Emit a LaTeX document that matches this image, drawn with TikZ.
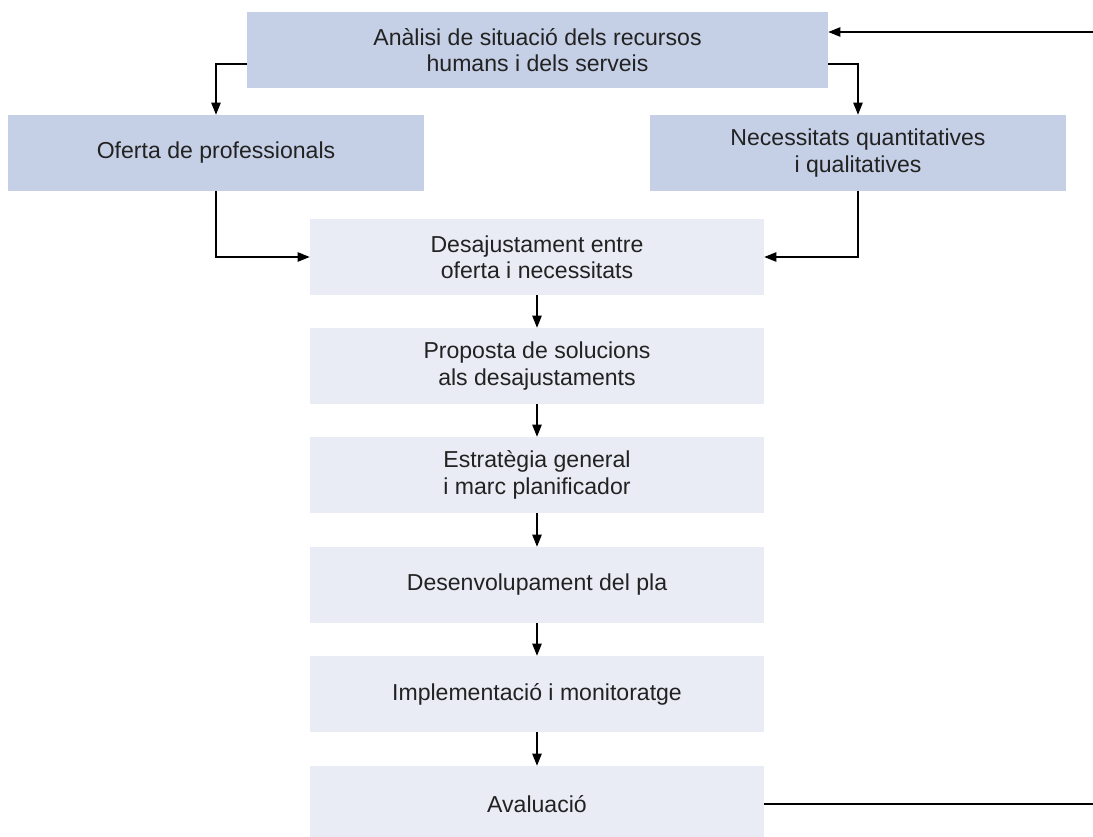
\documentclass[tikz,border=0pt]{standalone}
\usepackage{fontspec}
\setmainfont{Liberation Sans}
\usetikzlibrary{arrows.meta}
\definecolor{boxdark}{HTML}{C5CFE5}
\definecolor{boxlight}{HTML}{E9ECF4}
\definecolor{txt}{HTML}{222222}
\begin{document}
\begin{tikzpicture}[x=0.75pt,y=-0.75pt,
  box/.style={fill=#1, draw=none, inner sep=0pt, align=center, text=txt,
    font=\fontsize{17.3}{19.8}\selectfont, minimum height=57pt},
  wide/.style={minimum width=435.75pt},
  side/.style={minimum width=312pt},
  mid/.style={minimum width=340.5pt},
  conn/.style={draw=black, line width=0.9pt, -{Triangle[length=9pt,width=7pt]}},
  plain/.style={draw=black, line width=0.9pt}]
\useasboundingbox (0,0) rectangle (1093,836);
\begin{scope}
\clip (0,0) rectangle (1093,836);
\node[box=boxdark, wide] (top) at (537.5,50) {Anàlisi de situació dels recursos\\humans i dels serveis};
\node[box=boxdark, side] (oferta) at (216,153) {Oferta de professionals};
\node[box=boxdark, side] (necess) at (858,153) {Necessitats quantitatives\\i qualitatives};
\node[box=boxlight, mid] (desaj) at (537,257) {Desajustament entre\\oferta i necessitats};
\node[box=boxlight, mid] (prop) at (537,366) {Proposta de solucions\\als desajustaments};
\node[box=boxlight, mid] (estr) at (537,475) {Estratègia general\\i marc planificador};
\node[box=boxlight, mid] (desenv) at (537,585) {Desenvolupament del pla};
\node[box=boxlight, mid] (impl) at (537,694) {Implementació i monitoratge};
\node[box=boxlight, mid] (aval) at (537,804) {Avaluació};
\end{scope}
\coordinate (fb1) at (1093,804);
\coordinate (fb2) at (1093,32);
\draw[conn] ([yshift=-10.5pt]top.west) -| (oferta.north);
\draw[conn] ([yshift=-10.5pt]top.east) -| (necess.north);
\draw[conn] (oferta.south) |- (desaj.west);
\draw[conn] (necess.south) |- (desaj.east);
\draw[conn] (desaj.south) -- (prop.north);
\draw[conn] (prop.south) -- (estr.north);
\draw[conn] (estr.south) -- (desenv.north);
\draw[conn] (desenv.south) -- (impl.north);
\draw[conn] (impl.south) -- (aval.north);
\draw[plain] (aval.east) -- (fb1);
\draw[conn] (fb2) -- ([yshift=13.5pt]top.east);
\end{tikzpicture}
\end{document}
